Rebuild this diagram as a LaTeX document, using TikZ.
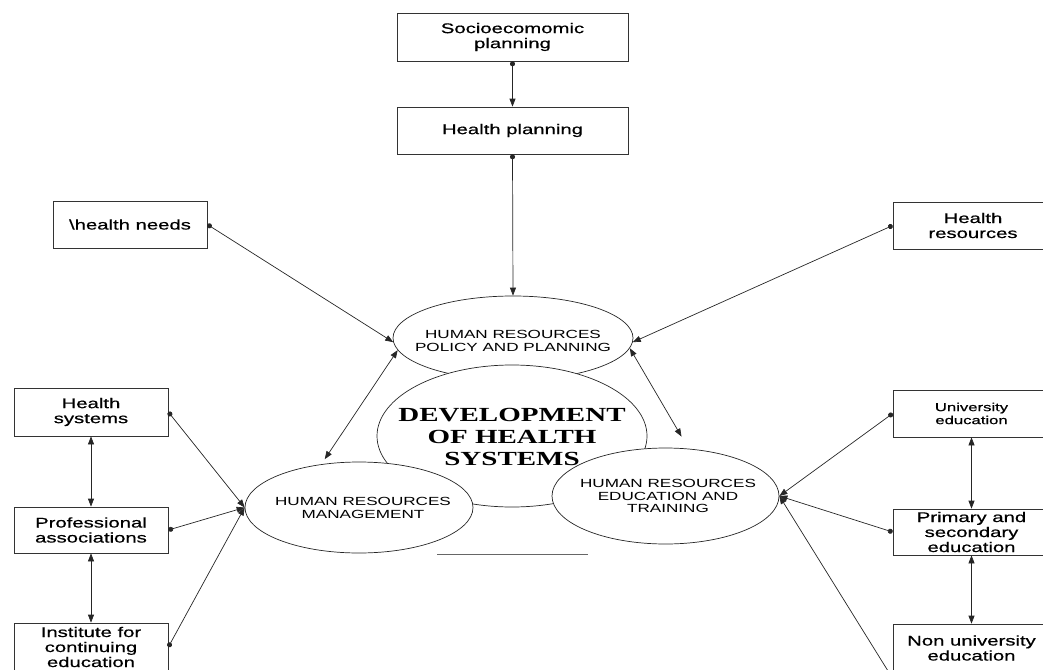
\documentclass[tikz,border=0pt]{standalone}
\usepackage{fontspec}
\usetikzlibrary{arrows.meta,shapes.geometric}
\newfontfamily\boxfont[FakeStretch=1.45,FakeBold=0.6]{Liberation Sans}
\newfontfamily\ellfont[FakeStretch=1.45]{Liberation Sans}
\newfontfamily\titlefont[FakeStretch=1.45]{Liberation Serif}
\begin{document}
\begin{tikzpicture}[x=1pt,y=-1pt,
  box/.style={draw=black!80,line width=0.7pt,inner sep=0pt,align=center,font=\boxfont\fontsize{14}{15}\selectfont},
  smallbox/.style={box,font=\boxfont\fontsize{11.5}{13}\selectfont},
  ell/.style={ellipse,draw=black!85,line width=0.7pt,fill=white,inner sep=0pt},
  elltext/.style={align=center,inner sep=0pt,font=\ellfont\fontsize{11.8}{12.5}\selectfont},
  conn/.style={line width=0.7pt,draw=black!85},
  da/.style={conn,{Circle[length=5pt]}-{Triangle[length=8pt,width=6pt]}},
  dd/.style={conn,{Triangle[length=8pt,width=6pt]}-{Triangle[length=8pt,width=6pt]}},
]
\useasboundingbox (0,0) rectangle (1043,669);
% boxes
\node[box,minimum width=231pt,minimum height=48pt] (soc) at (512.5,37) {Socioecomomic\\planning};
\node[box,minimum width=231pt,minimum height=47pt] (hp) at (512.5,130.5) {Health planning};
\node[box,minimum width=154pt,minimum height=47pt] (hn) at (130,224.5) {\textbackslash health needs};
\node[box,minimum width=160pt,minimum height=47pt] (hr) at (973,225.5) {Health\\resources};
\node[box,minimum width=154pt,minimum height=48pt] (hs) at (91,412) {Health\\systems};
\node[box,minimum width=154pt,minimum height=46pt] (pa) at (91,530) {Professional\\associations};
\node[box,minimum width=154pt,minimum height=48pt] (inst) at (91,647) {Institute for\\continuing\\education};
\node[smallbox,minimum width=157pt,minimum height=47pt] (ue) at (971.5,413.5) {University\\education};
\node[box,minimum width=157pt,minimum height=46pt] (ps) at (971.5,532) {Primary and\\secondary\\education};
\node[box,minimum width=157pt,minimum height=48pt] (nu) at (971.5,648) {Non university\\education};
% ellipses
\node[ell,minimum width=240pt,minimum height=84pt] (pol) at (513,338) {};
\node[elltext] (polt) at (513,341) {HUMAN RESOURCES\\POLICY AND PLANNING};
\node[ell,minimum width=270pt,minimum height=142pt] (dev) at (512,436) {};
\node[align=center,inner sep=0pt,font=\titlefont\bfseries\fontsize{20}{22}\selectfont] (devt) at (512,437) {DEVELOPMENT\\OF HEALTH\\SYSTEMS};
\node[ell,minimum width=228pt,minimum height=91pt] (mgmt) at (359,507.5) {};
\node[elltext] (mgmtt) at (363,508) {HUMAN RESOURCES\\MANAGEMENT};
\node[ell,minimum width=227pt,minimum height=96pt] (edu) at (665.5,496) {};
\node[elltext] (edut) at (668,496) {HUMAN RESOURCES\\EDUCATION AND\\TRAINING};
% stray line
\coordinate (sl1) at (437,554);
\coordinate (sl2) at (588,554);
\draw[line width=1pt,black!60] (sl1) -- (sl2);
% connectors
\draw[da] (soc.south) -- (hp.north);
\draw[da] (hp.south) -- (pol.north);
\draw[da] (hn.east) -- (pol.182);
\draw[da] (hr.west) -- (pol.-2);
\draw[dd,shorten >=6pt] (pol.186) -- (mgmt.131);
\draw[dd,shorten >=14pt] (pol.-5) -- (edu.64);
\draw[da] (hs.east) -- (mgmt.west);
\draw[da] (pa.east) -- (mgmt.west);
\draw[da] (inst.east) -- (mgmt.west);
\draw[da] (ue.west) -- (edu.east);
\draw[da] (ps.west) -- (edu.east);
\coordinate (nuend) at (893,679);
\draw[da] (nuend) -- (edu.east);
\draw[dd] (hs.south) -- (pa.north);
\draw[dd] (pa.south) -- (inst.north);
\draw[dd] (ue.south) -- (ps.north);
\draw[dd] (ps.south) -- (nu.north);
\end{tikzpicture}
\end{document}
